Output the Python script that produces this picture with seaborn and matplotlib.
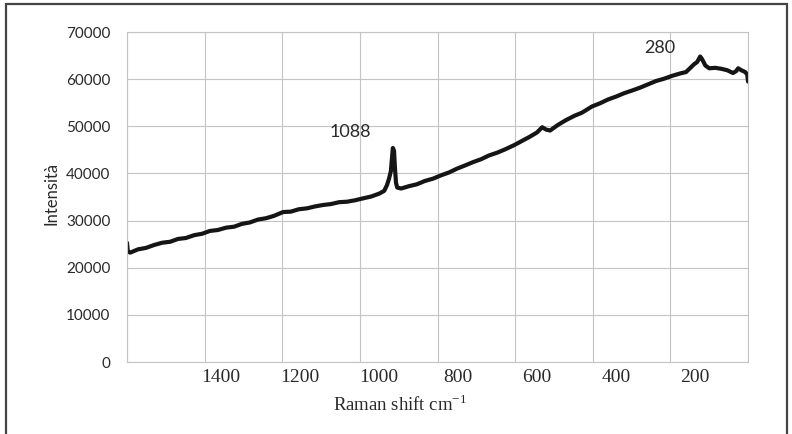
import numpy as np
import pandas as pd
import matplotlib
matplotlib.use("Agg")
import matplotlib.pyplot as plt
from matplotlib.patches import Rectangle
import seaborn as sns

# ---- data ----
wavenumber = [1638, 1636, 1630, 1610, 1590, 1570, 1549, 1529, 1509, 1489, 1468, 1448,
              1428, 1408, 1387, 1367, 1347, 1327, 1307, 1286, 1266, 1243, 1223, 1203,
              1182, 1162, 1142, 1122, 1101, 1081, 1061, 1041, 1020, 1000, 987, 980,
              975, 970, 967, 965, 962, 960, 957, 954, 944, 924, 904, 884, 863, 843,
              823, 803, 782, 762, 742, 722, 701, 681, 658, 638, 618, 600, 587, 577,
              567, 547, 527, 506, 486, 461, 440, 420, 400, 380, 359, 339, 319, 299,
              278, 258, 238, 223, 213, 202, 195, 187, 182, 174, 164, 149, 134, 119,
              104, 96, 91, 83, 73, 68, 66]
intensity = [25300, 23500, 23200, 23900, 24200, 24800, 25300, 25500, 26100, 26300, 26900, 27200,
             27800, 28000, 28500, 28700, 29300, 29600, 30200, 30500, 31000, 31800, 31900, 32400,
             32600, 33000, 33300, 33500, 33900, 34000, 34300, 34700, 35100, 35700, 36300, 37500,
             38800, 40500, 43500, 45400, 44800, 41500, 38000, 37000, 36800, 37300, 37700, 38400, 38900, 39600,
             40200, 41000, 41700, 42400, 43000, 43800, 44400, 45100, 46000, 46900, 47800, 48700, 49800, 49300,
             49100, 50300, 51300, 52200, 52900, 54200, 54900, 55700, 56300, 57000, 57600, 58200, 58900, 59600,
             60100, 60700, 61200, 61500, 62300, 63200, 63600, 64800, 64200, 62900, 62300, 62400, 62200, 61900,
             61300, 61700, 62300, 61900, 61500, 61000, 59500]

x_tick_values = [1400, 1200, 1000, 800, 600, 400, 200]
x_tick_labels = ["1400", "1200", "1000", "800", "600", "400", "200"]
y_tick_values = [0, 10000, 20000, 30000, 40000, 50000, 60000, 70000]
peak_labels = ["1088", "280"]
peak_label_pos = [(1073, 48700), (289, 66700)]

x_left, x_right = 1638, 66

df = pd.DataFrame({"wn": wavenumber, "I": intensity})

sns.set_theme(style="white")
fig = plt.figure(figsize=(7.92, 4.34), dpi=100)
ax = fig.add_axes([127/792, 1 - 362/434, (748-127)/792, (362-32)/434])

sns.lineplot(data=df, x="wn", y="I", ax=ax, color="#151515", linewidth=3.0,
             sort=False, estimator=None)

ax.set_xlim(x_left, x_right)
ax.set_ylim(0, 70000)

txt_c = "#2a2a2a"
grid_c = "#c4c4c4"
ax.set_xticks(x_tick_values)
ax.set_xticklabels(x_tick_labels, fontfamily="Liberation Serif", fontsize=14, color=txt_c)
ax.set_xticks(np.linspace(x_right, x_left, 9), minor=True)
ax.set_yticks(y_tick_values)
ax.set_yticklabels([str(v) for v in y_tick_values], fontfamily="Lato", fontsize=11, color=txt_c)
ax.tick_params(axis="both", which="both", length=0)
ax.tick_params(axis="x", pad=5)
ax.tick_params(axis="y", pad=12)
ax.xaxis.grid(True, which="minor", color=grid_c, linewidth=0.8)
ax.xaxis.grid(False, which="major")
ax.yaxis.grid(True, which="major", color=grid_c, linewidth=0.8)
for s in ax.spines.values():
    s.set_color(grid_c)
    s.set_linewidth(0.8)

ax.set_xlabel("")
ax.set_ylabel("")
ax.text(-0.121, 0.512, "Intensità", transform=ax.transAxes, rotation=90,
        ha="center", va="center", fontfamily="Lato", fontsize=12, color=txt_c)
ax.text((400-127)/621, (362-405)/330, r"Raman shift cm$^{\mathregular{-1}}$", transform=ax.transAxes,
        ha="center", va="center", fontfamily="Liberation Serif", fontsize=13.5, color=txt_c)

for lab, (px, py) in zip(peak_labels, peak_label_pos):
    ax.text(px, py, lab, ha="center", va="center", fontfamily="Lato", fontsize=13, color=txt_c)

fig.patches.append(Rectangle((6/792, -0.02), (787-6)/792, 1 - 4/434 + 0.02,
                             transform=fig.transFigure, fill=False,
                             edgecolor="#444444", linewidth=1.6))

fig.savefig("out.png", dpi=100)
